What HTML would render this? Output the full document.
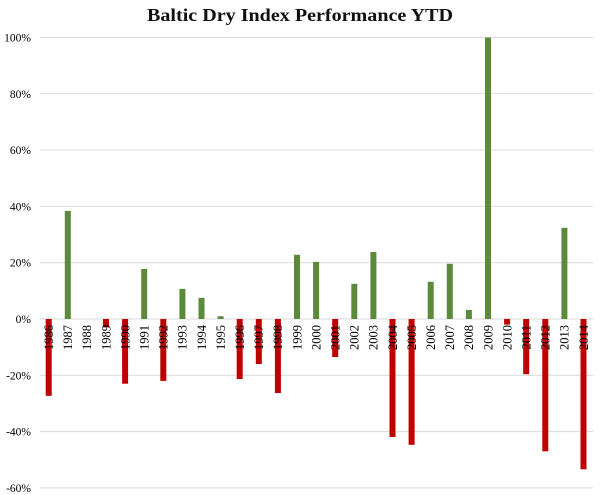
<!DOCTYPE html>
<html><head><meta charset="utf-8"><style>
html,body{margin:0;padding:0;background:#fff;}
svg{display:block;}
</style></head><body>
<svg width="600" height="495" viewBox="0 0 600 495" xmlns="http://www.w3.org/2000/svg">
<text x="300" y="21" text-anchor="middle" font-family="Liberation Serif, serif" font-weight="bold" font-size="18" textLength="306" lengthAdjust="spacingAndGlyphs" fill="#111">Baltic Dry Index Performance YTD</text>
<g stroke="#d9d9d9" stroke-width="1">
<line x1="40" x2="593" y1="37.5" y2="37.5"/>
<line x1="40" x2="593" y1="93.8" y2="93.8"/>
<line x1="40" x2="593" y1="150.1" y2="150.1"/>
<line x1="40" x2="593" y1="206.4" y2="206.4"/>
<line x1="40" x2="593" y1="262.7" y2="262.7"/>
<line x1="40" x2="593" y1="319" y2="319"/>
<line x1="40" x2="593" y1="375.3" y2="375.3"/>
<line x1="40" x2="593" y1="431.6" y2="431.6"/>
<line x1="40" x2="593" y1="487.9" y2="487.9"/>
</g>
<g font-family="Liberation Serif, serif" font-size="11.5" fill="#000" text-anchor="end">
<text x="31" y="41.5">100%</text>
<text x="31" y="97.8">80%</text>
<text x="31" y="154.1">60%</text>
<text x="31" y="210.4">40%</text>
<text x="31" y="266.7">20%</text>
<text x="31" y="323">0%</text>
<text x="31" y="379.3">-20%</text>
<text x="31" y="435.6">-40%</text>
<text x="31" y="491.9">-60%</text>
</g>
<g fill="#5a8a3a">
<rect x="64.8" y="210.9" width="6" height="108.1"/>
<rect x="141.2" y="268.9" width="6" height="50.1"/>
<rect x="179.4" y="288.9" width="6" height="30.1"/>
<rect x="198.5" y="297.9" width="6" height="21.1"/>
<rect x="217.6" y="316.2" width="6" height="2.8"/>
<rect x="294" y="254.8" width="6" height="64.2"/>
<rect x="313.1" y="261.9" width="6" height="57.1"/>
<rect x="351.3" y="283.8" width="6" height="35.2"/>
<rect x="370.4" y="252" width="6" height="67"/>
<rect x="427.7" y="281.8" width="6" height="37.2"/>
<rect x="446.8" y="263.8" width="6" height="55.2"/>
<rect x="465.9" y="310" width="6" height="9"/>
<rect x="485" y="37.5" width="6" height="281.5"/>
<rect x="561.4" y="227.8" width="6" height="91.2"/>
</g>
<g fill="#c00000">
<rect x="45.7" y="319" width="6" height="76.8"/>
<rect x="103" y="319" width="6" height="8.4"/>
<rect x="122.1" y="319" width="6" height="64.7"/>
<rect x="160.3" y="319" width="6" height="61.9"/>
<rect x="236.7" y="319" width="6" height="60"/>
<rect x="255.8" y="319" width="6" height="45"/>
<rect x="274.9" y="319" width="6" height="74"/>
<rect x="332.2" y="319" width="6" height="38"/>
<rect x="389.5" y="319" width="6" height="118"/>
<rect x="408.6" y="319" width="6" height="125.8"/>
<rect x="504.1" y="319" width="6" height="5.6"/>
<rect x="523.2" y="319" width="6" height="55.2"/>
<rect x="542.3" y="319" width="6" height="132.3"/>
<rect x="580.5" y="319" width="6" height="150.3"/>
</g>
<g font-family="Liberation Serif, serif" font-size="12.5" fill="#000" text-anchor="end">
<text transform="translate(53,325) rotate(-90)">1986</text>
<text transform="translate(72.1,325) rotate(-90)">1987</text>
<text transform="translate(91.2,325) rotate(-90)">1988</text>
<text transform="translate(110.3,325) rotate(-90)">1989</text>
<text transform="translate(129.4,325) rotate(-90)">1990</text>
<text transform="translate(148.5,325) rotate(-90)">1991</text>
<text transform="translate(167.6,325) rotate(-90)">1992</text>
<text transform="translate(186.7,325) rotate(-90)">1993</text>
<text transform="translate(205.8,325) rotate(-90)">1994</text>
<text transform="translate(224.9,325) rotate(-90)">1995</text>
<text transform="translate(244,325) rotate(-90)">1996</text>
<text transform="translate(263.1,325) rotate(-90)">1997</text>
<text transform="translate(282.2,325) rotate(-90)">1998</text>
<text transform="translate(301.3,325) rotate(-90)">1999</text>
<text transform="translate(320.4,325) rotate(-90)">2000</text>
<text transform="translate(339.5,325) rotate(-90)">2001</text>
<text transform="translate(358.6,325) rotate(-90)">2002</text>
<text transform="translate(377.7,325) rotate(-90)">2003</text>
<text transform="translate(396.8,325) rotate(-90)">2004</text>
<text transform="translate(415.9,325) rotate(-90)">2005</text>
<text transform="translate(435,325) rotate(-90)">2006</text>
<text transform="translate(454.1,325) rotate(-90)">2007</text>
<text transform="translate(473.2,325) rotate(-90)">2008</text>
<text transform="translate(492.3,325) rotate(-90)">2009</text>
<text transform="translate(511.4,325) rotate(-90)">2010</text>
<text transform="translate(530.5,325) rotate(-90)">2011</text>
<text transform="translate(549.6,325) rotate(-90)">2012</text>
<text transform="translate(568.7,325) rotate(-90)">2013</text>
<text transform="translate(587.8,325) rotate(-90)">2014</text>
</g>
</svg>
</body></html>
